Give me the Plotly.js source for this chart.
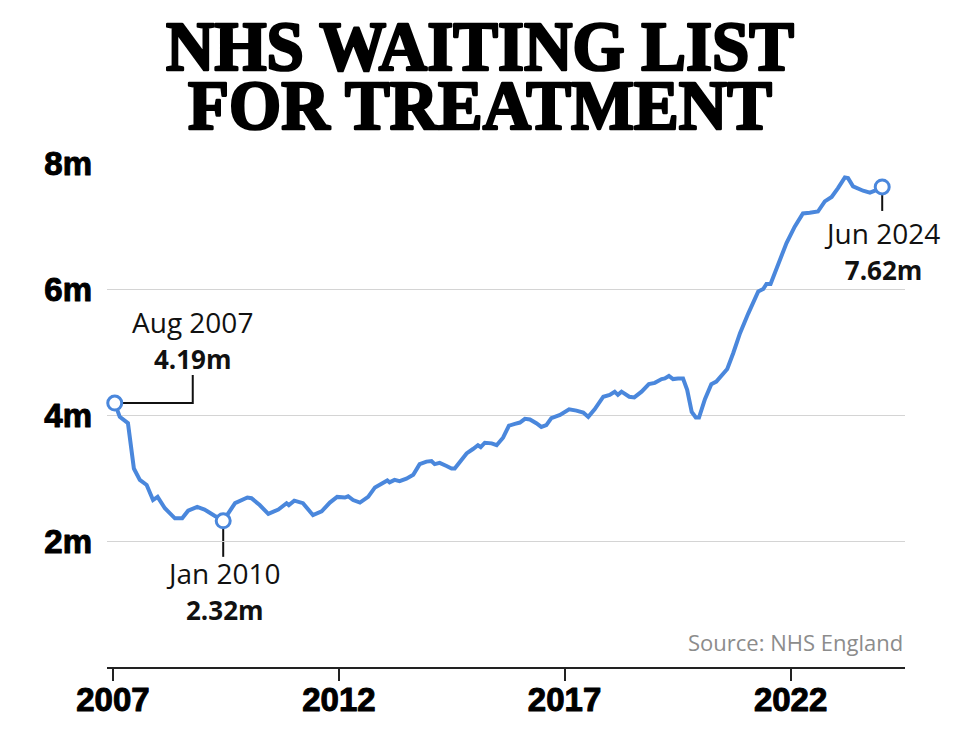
<!DOCTYPE html>
<html>
<head>
<meta charset="utf-8">
<script src="https://cdn.plot.ly/plotly-3.0.1.min.js"></script>
<style>html,body{margin:0;padding:0;background:#fff;}#chart{width:960px;height:738px;}</style>
</head>
<body>
<div id="chart"></div>
<script>
// Decimal year of each reading (Aug 2007 .. Jun 2024)
const years = [
  2007.58, 2007.69, 2007.87, 2008.00, 2008.13, 2008.28, 2008.42, 2008.52, 2008.68, 2008.90,
  2009.06, 2009.19, 2009.39, 2009.55, 2009.77, 2009.96, 2010.07, 2010.22, 2010.49, 2010.58,
  2010.76, 2010.95, 2011.17, 2011.28, 2011.35, 2011.40, 2011.52, 2011.71, 2011.93, 2012.12,
  2012.30, 2012.46, 2012.63, 2012.70, 2012.81, 2012.96, 2013.14, 2013.29, 2013.47, 2013.56,
  2013.61, 2013.72, 2013.83, 2013.98, 2014.13, 2014.27, 2014.42, 2014.53, 2014.60, 2014.71,
  2014.86, 2014.97, 2015.04, 2015.15, 2015.30, 2015.44, 2015.55, 2015.61, 2015.70, 2015.85,
  2015.96, 2016.10, 2016.23, 2016.36, 2016.47, 2016.58, 2016.69, 2016.83, 2016.94, 2017.05,
  2017.16, 2017.35, 2017.55, 2017.71, 2017.86, 2017.97, 2018.11, 2018.30, 2018.44, 2018.55,
  2018.62, 2018.70, 2018.87, 2018.98, 2019.14, 2019.30, 2019.43, 2019.58, 2019.65, 2019.74,
  2019.83, 2019.94, 2020.05, 2020.14, 2020.24, 2020.33, 2020.40, 2020.53, 2020.67, 2020.78,
  2020.89, 2021.02, 2021.15, 2021.30, 2021.48, 2021.70, 2021.81, 2021.88, 2021.97, 2022.14,
  2022.32, 2022.50, 2022.68, 2022.83, 2023.01, 2023.16, 2023.31, 2023.45, 2023.60, 2023.67,
  2023.78, 2024.00, 2024.15, 2024.26, 2024.42
];
// Waiting list, millions
const waiting = [
  4.19, 3.97, 3.87, 3.15, 2.97, 2.89, 2.65, 2.70, 2.52, 2.36,
  2.36, 2.48, 2.54, 2.50, 2.40, 2.32, 2.44, 2.60, 2.69, 2.68,
  2.57, 2.43, 2.50, 2.56, 2.60, 2.57, 2.64, 2.60, 2.41, 2.47,
  2.61, 2.70, 2.69, 2.71, 2.65, 2.61, 2.70, 2.85, 2.93, 2.96,
  2.93, 2.97, 2.95, 2.99, 3.05, 3.22, 3.26, 3.27, 3.22, 3.24,
  3.19, 3.15, 3.15, 3.26, 3.39, 3.46, 3.52, 3.49, 3.56, 3.55,
  3.52, 3.64, 3.83, 3.86, 3.88, 3.94, 3.93, 3.87, 3.81, 3.84,
  3.95, 4.00, 4.09, 4.07, 4.04, 3.97, 4.09, 4.29, 4.32, 4.37,
  4.32, 4.37, 4.29, 4.28, 4.37, 4.49, 4.51, 4.57, 4.58, 4.62,
  4.57, 4.58, 4.58, 4.40, 4.05, 3.96, 3.96, 4.25, 4.49, 4.53,
  4.62, 4.73, 4.98, 5.30, 5.61, 5.96, 6.00, 6.08, 6.08, 6.41,
  6.73, 6.99, 7.20, 7.21, 7.23, 7.39, 7.46, 7.60, 7.77, 7.76,
  7.63, 7.56, 7.53, 7.56, 7.62
];
// Highlighted readings
const highlightIndex = [0, 15, years.length - 1];
const highlightLabels = ['Aug 2007', 'Jan 2010', 'Jun 2024'];
const highlightValues = ['4.19m', '2.32m', '7.62m'];
// Axis ticks
const xTickVals = [2007.54, 2012.50, 2017.45, 2022.41];
const xTickText = ['2007', '2012', '2017', '2022'];
const yTickVals = [2, 4, 6, 8];
const yTickText = ['2m', '4m', '6m', '8m'];
const titleLines = ['NHS WAITING LIST', 'FOR TREATMENT'];

const BLUE = '#4a87dc';
const INK = '#111111';
const labelFont = 'Open Sans, Noto Sans, sans-serif';
const tickFont = 'Liberation Sans, Arial, sans-serif';
const titleFont = 'Liberation Serif, serif';

const hx = highlightIndex.map(i => years[i]);
const hy = highlightIndex.map(i => waiting[i]);

const traces = [
  {
    x: years, y: waiting, type: 'scatter', mode: 'lines',
    line: {color: BLUE, width: 4}, hoverinfo: 'skip', cliponaxis: false
  },
  {
    x: hx, y: hy, type: 'scatter', mode: 'markers',
    marker: {size: 14, color: '#ffffff', line: {color: BLUE, width: 3}},
    hoverinfo: 'skip', cliponaxis: false
  }
];

// label placement (pixel offsets from each highlighted point)
const labelShift = [[78, 63], [0, -70], [0, -64]];
const connectorPaths = ['M0,0H78V28', 'M0,0V-36', 'M0,0V-24'];

const annotations = highlightIndex.map((idx, k) => ({
  x: hx[k], y: hy[k], xref: 'x', yref: 'y',
  text: highlightLabels[k] + '<br><span style="font-size:26px"><b>' + highlightValues[k] + '</b></span>',
  showarrow: false, xanchor: 'center', yanchor: 'middle',
  xshift: labelShift[k][0], yshift: labelShift[k][1],
  font: {family: labelFont, size: 28, color: INK}, align: 'center'
}));
annotations.push({
  xref: 'paper', yref: 'paper', x: 1, y: 0.05, xanchor: 'right', yanchor: 'middle',
  text: 'Source: NHS England', showarrow: false,
  font: {family: labelFont, size: 22, color: '#8c8c8c'}
});

const shapes = highlightIndex.map((idx, k) => ({
  type: 'path', xref: 'x', yref: 'y',
  xsizemode: 'pixel', ysizemode: 'pixel',
  xanchor: hx[k], yanchor: hy[k],
  path: connectorPaths[k],
  line: {color: INK, width: 2}, layer: 'below'
}));

const layout = {
  width: 960, height: 738, autosize: false,
  margin: {l: 107, r: 55, t: 163, b: 71, pad: 0},
  paper_bgcolor: '#ffffff', plot_bgcolor: '#ffffff',
  showlegend: false,
  title: {
    text: titleLines.join('<br>'),
    font: {family: titleFont, size: 67, color: '#000', weight: 'bold'},
    x: 0.5, xref: 'container', xanchor: 'center',
    y: 1 - 20 / 738, yref: 'container', yanchor: 'top'
  },
  xaxis: {
    range: [2007.41, 2024.92], fixedrange: true,
    tickmode: 'array', tickvals: xTickVals, ticktext: xTickText,
    ticks: 'outside', ticklen: 12, tickwidth: 2, tickcolor: '#222',
    ticklabelstandoff: -10,
    showline: true, linecolor: '#222', linewidth: 2,
    showgrid: false, zeroline: false,
    tickfont: {family: tickFont, size: 33, color: '#000', weight: 'bold'}
  },
  yaxis: {
    range: [0, 8], fixedrange: true,
    tickmode: 'array', tickvals: yTickVals, ticktext: yTickText,
    ticks: '', ticklabelstandoff: 14,
    showgrid: true, gridcolor: '#d4d4d4', gridwidth: 1,
    zeroline: false, showline: false,
    tickfont: {family: tickFont, size: 33, color: '#000', weight: 'bold'}
  },
  annotations: annotations,
  shapes: shapes
};

function heavyText(el, strokeW) {
  el.style.stroke = '#000';
  el.style.strokeWidth = strokeW + 'px';
  el.style.strokeLinejoin = 'round';
  el.style.paintOrder = 'stroke';
}

Plotly.newPlot('chart', traces, layout, {displayModeBar: false, staticPlot: true}).then(gd => {
  const t = gd.querySelector('.g-gtitle text.gtitle');
  if (t) {
    const sY = 1.04;
    heavyText(t, 2.6);
    const lines = t.querySelectorAll('tspan.line');
    if (lines.length > 1) lines[1].setAttribute('dy', (59 / sY) + 'px');
    const bb = t.getBBox();
    const cy = bb.y + bb.height / 2;
    const prev = t.getAttribute('transform') || '';
    t.setAttribute('transform', prev + ' translate(0,' + (76 - sY * cy) + ') scale(1,' + sY + ')');
  }
  gd.querySelectorAll('.xtick text, .ytick text').forEach(el => heavyText(el, 1));
});
</script>
</body>
</html>
